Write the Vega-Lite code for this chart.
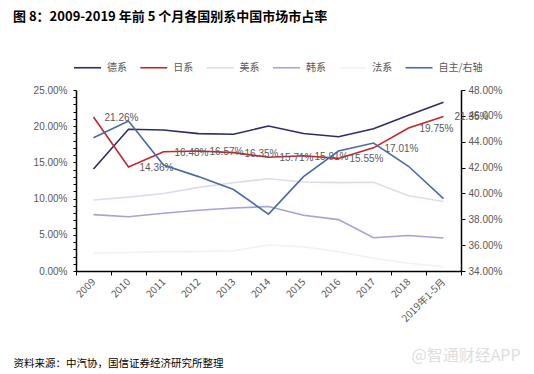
{
  "$schema": "https://vega.github.io/schema/vega-lite/v6.json",
  "autosize": {"type": "none"},
  "padding": {"left": 76, "top": 90, "right": 73, "bottom": 103},
  "width": 385,
  "height": 181,
  "background": "white",
  "title": {
    "text": "图 8：2009-2019 年前 5 个月各国别系中国市场市占率",
    "anchor": "start",
    "frame": "group",
    "dx": -63,
    "offset": 29,
    "font": "Noto Sans CJK SC",
    "fontSize": 13,
    "fontWeight": "bold",
    "color": "#000000"
  },
  "config": {
    "view": {"stroke": null},
    "axis": {"labelFont": "Liberation Sans", "labelColor": "#595959", "labelFontSize": 10, "domainColor": "#000000", "tickColor": "#000000", "grid": false},
    "legend": {"labelFont": "Noto Sans CJK SC", "labelColor": "#595959", "labelFontSize": 10}
  },
  "data": {
    "values": [
      {"year": "2009", "series": "德系", "value": 0.1409},
      {"year": "2010", "series": "德系", "value": 0.1957},
      {"year": "2011", "series": "德系", "value": 0.1948},
      {"year": "2012", "series": "德系", "value": 0.1897},
      {"year": "2013", "series": "德系", "value": 0.1888},
      {"year": "2014", "series": "德系", "value": 0.2003},
      {"year": "2015", "series": "德系", "value": 0.1900},
      {"year": "2016", "series": "德系", "value": 0.1855},
      {"year": "2017", "series": "德系", "value": 0.1966},
      {"year": "2018", "series": "德系", "value": 0.2150},
      {"year": "2019年1-5月", "series": "德系", "value": 0.2330},
      {"year": "2009", "series": "日系", "value": 0.2126},
      {"year": "2010", "series": "日系", "value": 0.1436},
      {"year": "2011", "series": "日系", "value": 0.1648},
      {"year": "2012", "series": "日系", "value": 0.1657},
      {"year": "2013", "series": "日系", "value": 0.1635},
      {"year": "2014", "series": "日系", "value": 0.1571},
      {"year": "2015", "series": "日系", "value": 0.1591},
      {"year": "2016", "series": "日系", "value": 0.1555},
      {"year": "2017", "series": "日系", "value": 0.1701},
      {"year": "2018", "series": "日系", "value": 0.1975},
      {"year": "2019年1-5月", "series": "日系", "value": 0.2135},
      {"year": "2009", "series": "美系", "value": 0.0980},
      {"year": "2010", "series": "美系", "value": 0.1020},
      {"year": "2011", "series": "美系", "value": 0.1070},
      {"year": "2012", "series": "美系", "value": 0.1155},
      {"year": "2013", "series": "美系", "value": 0.1220},
      {"year": "2014", "series": "美系", "value": 0.1275},
      {"year": "2015", "series": "美系", "value": 0.1230},
      {"year": "2016", "series": "美系", "value": 0.1220},
      {"year": "2017", "series": "美系", "value": 0.1225},
      {"year": "2018", "series": "美系", "value": 0.1040},
      {"year": "2019年1-5月", "series": "美系", "value": 0.0960},
      {"year": "2009", "series": "韩系", "value": 0.0778},
      {"year": "2010", "series": "韩系", "value": 0.0750},
      {"year": "2011", "series": "韩系", "value": 0.0797},
      {"year": "2012", "series": "韩系", "value": 0.0840},
      {"year": "2013", "series": "韩系", "value": 0.0870},
      {"year": "2014", "series": "韩系", "value": 0.0890},
      {"year": "2015", "series": "韩系", "value": 0.0770},
      {"year": "2016", "series": "韩系", "value": 0.0710},
      {"year": "2017", "series": "韩系", "value": 0.0460},
      {"year": "2018", "series": "韩系", "value": 0.0490},
      {"year": "2019年1-5月", "series": "韩系", "value": 0.0455},
      {"year": "2009", "series": "法系", "value": 0.0250},
      {"year": "2010", "series": "法系", "value": 0.0255},
      {"year": "2011", "series": "法系", "value": 0.0267},
      {"year": "2012", "series": "法系", "value": 0.0270},
      {"year": "2013", "series": "法系", "value": 0.0280},
      {"year": "2014", "series": "法系", "value": 0.0360},
      {"year": "2015", "series": "法系", "value": 0.0335},
      {"year": "2016", "series": "法系", "value": 0.0267},
      {"year": "2017", "series": "法系", "value": 0.0175},
      {"year": "2018", "series": "法系", "value": 0.0106},
      {"year": "2019年1-5月", "series": "法系", "value": 0.0060},
      {"year": "2009", "series": "自主/右轴", "value": 0.4431},
      {"year": "2010", "series": "自主/右轴", "value": 0.4560},
      {"year": "2011", "series": "自主/右轴", "value": 0.4220},
      {"year": "2012", "series": "自主/右轴", "value": 0.4130},
      {"year": "2013", "series": "自主/右轴", "value": 0.4030},
      {"year": "2014", "series": "自主/右轴", "value": 0.3840},
      {"year": "2015", "series": "自主/右轴", "value": 0.4130},
      {"year": "2016", "series": "自主/右轴", "value": 0.4328},
      {"year": "2017", "series": "自主/右轴", "value": 0.4390},
      {"year": "2018", "series": "自主/右轴", "value": 0.4210},
      {"year": "2019年1-5月", "series": "自主/右轴", "value": 0.3960}
    ]
  },
  "encoding": {
    "x": {
      "field": "year",
      "type": "ordinal",
      "sort": null,
      "bandPosition": 0.5,
      "scale": {"type": "band", "paddingInner": 0, "paddingOuter": 0},
      "axis": {
        "tickBand": "extent",
        "labelAngle": -45,
        "labelAlign": "right",
        "labelBaseline": "middle",
        "labelPadding": 5,
        "tickSize": 4,
        "domainWidth": 1.5,
        "labelFont": "Noto Sans CJK SC",
        "title": "资料来源：中汽协，国信证券经济研究所整理",
        "titleFont": "Noto Sans CJK SC",
        "titleFontSize": 10.5,
        "titleFontWeight": "normal",
        "titleColor": "#000000",
        "titleAlign": "left",
        "titleBaseline": "middle",
        "titleAngle": 0,
        "titleX": -63,
        "titleY": 92
      }
    }
  },
  "layer": [
    {
      "transform": [{"filter": "datum.series !== '自主/右轴'"}],
      "encoding": {
        "y": {
          "field": "value",
          "type": "quantitative",
          "scale": {"domain": [0, 0.25], "nice": false, "zero": true},
          "axis": {
            "orient": "left",
            "values": [0, 0.01, 0.02, 0.03, 0.04, 0.05, 0.06, 0.07, 0.08, 0.09, 0.1, 0.11, 0.12, 0.13, 0.14, 0.15, 0.16, 0.17, 0.18, 0.19, 0.2, 0.21, 0.22, 0.23, 0.24, 0.25],
            "labelExpr": "round(datum.value * 100) % 5 == 0 ? format(datum.value, '.2%') : ''",
            "labelOverlap": false,
            "tickSize": 3,
            "labelPadding": 6,
            "domainWidth": 1.5,
            "title": null
          }
        }
      },
      "layer": [
        {
          "mark": {"type": "line", "strokeWidth": 1.6},
          "encoding": {
            "color": {
              "field": "series",
              "type": "nominal",
              "scale": {
                "domain": ["德系", "日系", "美系", "韩系", "法系", "自主/右轴"],
                "range": ["#2c2d68", "#c1272d", "#dcdcef", "#a3a3d6", "#f1f1f6", "#4a6aa2"]
              },
              "legend": {
                "orient": "none",
                "legendX": -3,
                "legendY": -37,
                "direction": "horizontal",
                "title": null,
                "symbolType": "stroke",
                "symbolSize": 729,
                "symbolStrokeWidth": 1.6,
                "labelOffset": 5,
                "columnPadding": 9.3
              }
            }
          }
        },
        {
          "transform": [{"filter": "datum.series === '日系'"}],
          "mark": {"type": "text", "align": "left", "baseline": "middle", "dx": 11, "dy": 1, "font": "Liberation Sans", "fontSize": 10, "color": "#595959"},
          "encoding": {
            "text": {"field": "value", "type": "quantitative", "format": ".2%"}
          }
        }
      ]
    },
    {
      "transform": [{"filter": "datum.series === '自主/右轴'"}],
      "mark": {"type": "line", "strokeWidth": 1.6},
      "encoding": {
        "y": {
          "field": "value",
          "type": "quantitative",
          "scale": {"domain": [0.34, 0.48], "nice": false, "zero": false},
          "axis": {
            "orient": "right",
            "values": [0.34, 0.36, 0.38, 0.4, 0.42, 0.44, 0.46, 0.48],
            "format": ".2%",
            "labelOverlap": false,
            "tickSize": 4,
            "labelPadding": 3,
            "domainWidth": 1.5,
            "title": "@智通财经APP",
            "titleFont": "Noto Sans CJK SC",
            "titleFontSize": 16,
            "titleFontWeight": "normal",
            "titleColor": "#dedede",
            "titleAngle": 0,
            "titleAlign": "left",
            "titleBaseline": "middle",
            "titleX": -50,
            "titleY": 265
          }
        },
        "color": {"field": "series", "type": "nominal"}
      }
    }
  ],
  "resolve": {"scale": {"y": "independent"}}
}
